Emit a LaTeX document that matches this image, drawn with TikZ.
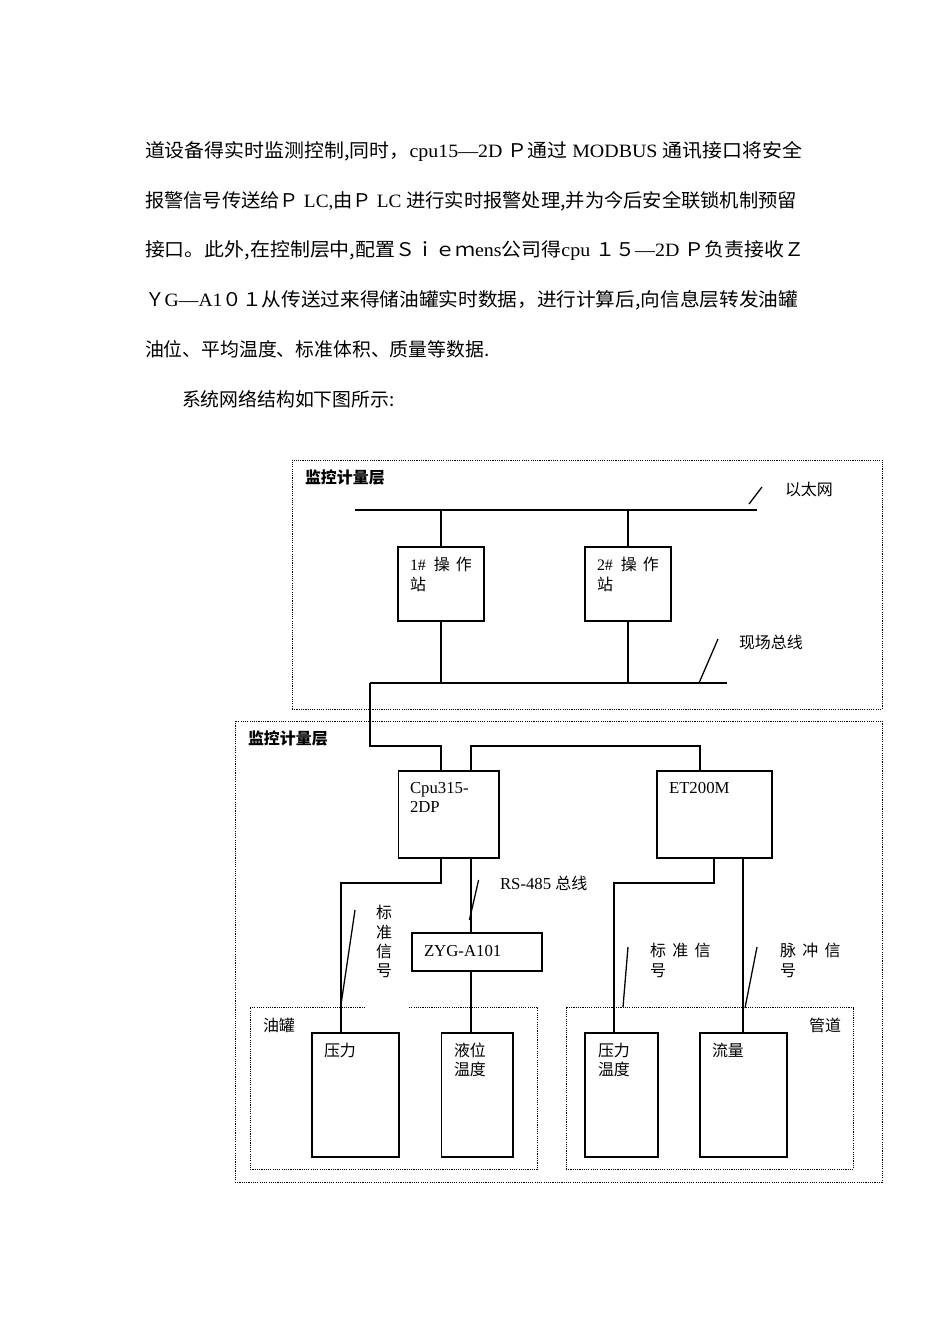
\documentclass[tikz,border=0pt]{standalone}
\usepackage{fontspec}
\usepackage{graphicx}
\setmainfont{Liberation Serif}
\newfontfamily\cjk{Noto Sans CJK SC}
\usetikzlibrary{fit,calc}
\newcommand\dgfont{\fontsize{10}{12}\selectfont}
\newcommand\bdfont{\fontsize{11.8}{14}\selectfont}
\newcommand\jline[2]{\resizebox{#1}{\height}{#2}}
\tikzset{
  box/.style={draw, line width=0.8pt, inner sep=0pt, outer sep=0pt, fit={#1}},
  zone/.style={draw, line width=0.5pt, dash pattern=on 0.7pt off 0.7pt, inner sep=0pt, outer sep=0pt, fit={#1}},
  wire/.style={line width=0.8pt},
  thinzone/.style={line width=0.5pt, dash pattern=on 0.7pt off 0.7pt},
  lbl/.style={inner sep=0pt, outer sep=0pt, anchor=base west, font=\dgfont},
  body/.style={inner sep=0pt, outer sep=0pt, anchor=base west, font=\bdfont},
}
\begin{document}
\begin{tikzpicture}[x=0.6262pt, y=-0.6262pt]
\fill[white] (0,0) rectangle (950,1344);
\useasboundingbox (0,0) rectangle (950,1344);

% ---------- body text ----------
\node[body] (t1) at (145,157) {\jline{411.4pt}{{\cjk 道设备得实时监测控制,同时，}cpu15—2D {\cjk Ｐ通过} MODBUS {\cjk 通讯接口将安全}}};
\node[body] (t2) at (145,207) {\jline{408.3pt}{{\cjk 报警信号传送给Ｐ} LC,{\cjk 由Ｐ} LC {\cjk 进行实时报警处理,并为今后安全联锁机制预留}}};
\node[body] (t3) at (145,256) {\jline{412.7pt}{{\cjk 接口。此外,在控制层中,配置Ｓｉｅｍ}ens{\cjk 公司得}cpu {\cjk １５}—2D {\cjk Ｐ负责接收Ｚ}}};
\node[body] (t4) at (145,306) {\jline{408.9pt}{{\cjk Ｙ}G—A1{\cjk ０１从传送过来得储油罐实时数据，进行计算后,向信息层转发油罐}}};
\node[body] (t5) at (145,356) {\cjk 油位、平均温度、标准体积、质量等数据.};
\node[body] (t6) at (182,406) {\cjk 系统网络结构如下图所示:};

% ---------- upper layer ----------
\node[zone={(292,460) (882,709)}] (zoneA) {};
\node[lbl] (titleA) at (305,483) {\cjk\bfseries 监控计量层};

\coordinate (ethL) at (355,510);
\coordinate (ethR) at (757,510);
\draw[wire] (ethL) -- (ethR);
\coordinate (ethS1) at (749,504);
\coordinate (ethS2) at (762,487);
\draw[wire] (ethS1) -- (ethS2);
\node[lbl] (ethlbl) at (785,495) {\cjk 以太网};

\node[box={(398,547) (484,621)}] (op1) {};
\node[box={(585,547) (671,621)}] (op2) {};
\node[lbl] (op1a) at (410,570) {1\#\hspace{5pt}{\cjk 操\hspace{3.8pt}作}};
\node[lbl] (op1b) at (410,590) {\cjk 站};
\node[lbl] (op2a) at (597,570) {2\#\hspace{5pt}{\cjk 操\hspace{3.8pt}作}};
\node[lbl] (op2b) at (597,590) {\cjk 站};

\coordinate (fbL) at (370,683);
\coordinate (fbR) at (727,683);
\draw[wire] (fbL) -- (fbR);
\coordinate (fbS1) at (699,683);
\coordinate (fbS2) at (718,639);
\draw[wire] (fbS1) -- (fbS2);
\node[lbl] (fblbl) at (739,648) {\cjk 现场总线};

\draw[wire] (op1.north) -- (op1.north |- ethL);
\draw[wire] (op2.north) -- (op2.north |- ethL);
\draw[wire] (op1.south) -- (op1.south |- fbL);
\draw[wire] (op2.south) -- (op2.south |- fbL);

% ---------- lower layer ----------
\node[zone={(235,721) (882,1182)}] (zoneB) {};
\node[lbl] (titleB) at (248,744) {\cjk\bfseries 监控计量层};

\node[box={(398.5,771) (499,858)}] (cpu) {};
\node[box={(657,771) (772,858)}] (et) {};
\node[lbl, font=\fontsize{10.5}{12}\selectfont] (cpua) at (410,793) {Cpu315-};
\node[lbl, font=\fontsize{10.5}{12}\selectfont] (cpub) at (410,812) {2DP};
\node[lbl, font=\fontsize{10.5}{12}\selectfont] (etlbl) at (669,793) {ET200M};

\coordinate (cpuT1) at (441,771);
\coordinate (cpuT2) at (471,771);
\coordinate (cpuB1) at (441,858);
\coordinate (cpuB2) at (471,858);
\coordinate (etT) at (700,771);
\coordinate (etB1) at (714,858);
\coordinate (etB2) at (743,858);

\draw[wire] (fbL) |- (441,746) -- (cpuT1);
\draw[wire] (cpuT2) |- (700,746) -- (etT);

\node[box={(412,933) (542,971)}] (zyg) {};
\node[lbl, font=\fontsize{10.5}{12}\selectfont] (zyglbl) at (424,956) {ZYG-A101};
\draw[wire] (cpuB2) -- (cpuB2 |- zyg.north);

\coordinate (rsS1) at (478.6,880);
\coordinate (rsS2) at (469.4,920);
\draw[wire] (rsS1) -- (rsS2);
\node[lbl] (rslbl) at (500,889) {\fontsize{10.5}{12}\selectfont RS-485 {\cjk\dgfont 总线}};

% sub zones
\node[inner sep=0pt, outer sep=0pt, fit={(250,1007) (537.6,1169)}] (tank) {};
\draw[thinzone] (365,1007) -- (tank.north west) -- (tank.south west) -- (tank.south east) -- (tank.north east) -- (408.7,1007);
\node[zone={(566,1007) (853.7,1169)}] (pipe) {};
\node[lbl] (tanklbl) at (263,1031) {\cjk 油罐};
\node[lbl, anchor=base east] (pipelbl) at (841,1031) {\cjk 管道};

% instrument boxes
\node[box={(312,1033) (399,1157)}] (p1) {};
\node[box={(441.5,1033) (513,1157)}] (lv) {};
\node[box={(585,1033) (658,1157)}] (p2) {};
\node[box={(700,1033) (787,1157)}] (fl) {};
\node[lbl] (p1a) at (324,1056) {\cjk 压力};
\node[lbl] (lva) at (454,1056) {\cjk 液位};
\node[lbl] (lvb) at (454,1075) {\cjk 温度};
\node[lbl] (p2a) at (598,1056) {\cjk 压力};
\node[lbl] (p2b) at (598,1075) {\cjk 温度};
\node[lbl] (fla) at (712,1056) {\cjk 流量};

\draw[wire] (cpuB1) |- (341,883) -- (341,1033);
\draw[wire] (zyg.south -| cpuB2) -- (cpuB2 |- lv.north);
\draw[wire] (etB1) |- (614,883) -- (614,1033);
\draw[wire] (etB2) -- (etB2 |- fl.north);

% signal slashes and labels
\coordinate (sgS1) at (355,910);
\coordinate (sgS2) at (340.5,1008);
\draw[wire] (sgS1) -- (sgS2);
\node[lbl, anchor=base] (v1) at (384,918) {\cjk 标};
\node[lbl, anchor=base] (v2) at (384,938) {\cjk 准};
\node[lbl, anchor=base] (v3) at (384,957) {\cjk 信};
\node[lbl, anchor=base] (v4) at (384,976) {\cjk 号};

\coordinate (smS1) at (628,947);
\coordinate (smS2) at (623,1007);
\draw[wire] (smS1) -- (smS2);
\node[lbl] (sma) at (650,956) {\cjk 标\hspace{4pt}准\hspace{4pt}信};
\node[lbl] (smb) at (650,976) {\cjk 号};

\coordinate (puS1) at (757,947);
\coordinate (puS2) at (745,1008);
\draw[wire] (puS1) -- (puS2);
\node[lbl] (pua) at (780,956) {\cjk 脉\hspace{4pt}冲\hspace{4pt}信};
\node[lbl] (pub) at (780,976) {\cjk 号};
\end{tikzpicture}
\end{document}
